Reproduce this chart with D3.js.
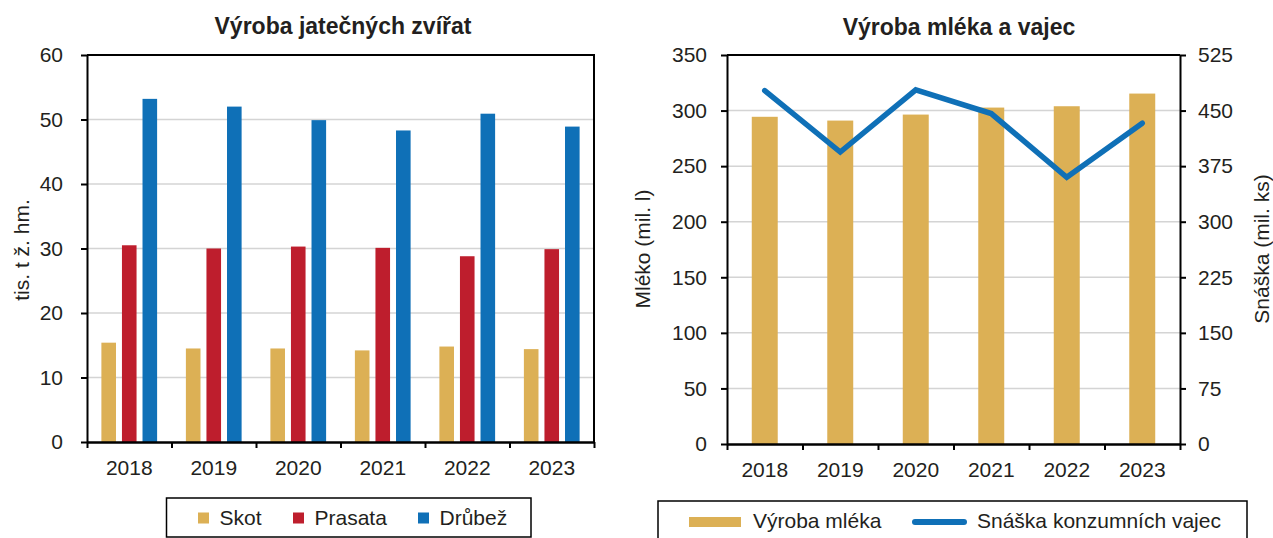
<!DOCTYPE html>
<html><head><meta charset="utf-8">
<script src="https://cdn.jsdelivr.net/npm/d3@7"></script>
<style>
body{margin:0;background:#fff}
text{font-family:"Liberation Sans",Arial,sans-serif;fill:#231f20}
</style>
</head><body>
<svg id="c" width="1273" height="538"></svg>
<script>
// ---- data ----
const years = ["2018","2019","2020","2021","2022","2023"];
const meatSeries = ["Skot","Prasata","Drůbež"];
const skot = [15.4,14.5,14.5,14.2,14.8,14.4];
const prasata = [30.5,30.0,30.3,30.1,28.8,29.9];
const drubez = [53.2,52.0,49.9,48.3,50.9,48.9];
const meatTicks = [0,10,20,30,40,50,60];
const milk = [294.4,291.0,296.4,302.7,303.9,315.3];
const eggs = [477,394,478,446,360,433];
const milkTicks = [0,50,100,150,200,250,300,350];
const eggTicks = [0,75,150,225,300,375,450,525];
const meatColors = ["#dcb055","#be1e2d","#0f70b7"];
const milkColor = "#dcb055", eggColor = "#0f70b7";

const svg = d3.select("#c");
const FS = 21;
const gridColor = "#d4d4d4";

function styleAxis(g){
  g.selectAll("path.domain").attr("stroke","#000").attr("stroke-width",2);
  g.selectAll(".tick line").attr("stroke","#000").attr("stroke-width",2);
  g.selectAll("text").attr("font-size",FS).attr("fill","#231f20")
   .attr("font-family","Liberation Sans, Arial, sans-serif");
}

// ================= LEFT CHART =================
{
  const L = {x0:87, x1:594, y0:55, y1:442};
  const x0 = d3.scaleBand().domain(years).range([L.x0,L.x1]).padding(0);
  const x1 = d3.scaleBand().domain(meatSeries).range([0,x0.bandwidth()]).paddingInner(0.29).paddingOuter(0.7);
  const y = d3.scaleLinear().domain([0,60]).range([L.y1,L.y0]);
  const data = years.map((yr,i)=>({year:yr, vals:[skot[i],prasata[i],drubez[i]]}));

  // grid
  svg.append("g").selectAll("line").data(meatTicks.filter(t=>t>0&&t<60)).join("line")
    .attr("x1",L.x0).attr("x2",L.x1).attr("y1",d=>y(d)).attr("y2",d=>y(d))
    .attr("stroke",gridColor).attr("stroke-width",1.5);

  // bars
  svg.append("g").selectAll("g").data(data).join("g")
    .attr("transform",d=>`translate(${x0(d.year)},0)`)
    .selectAll("rect").data(d=>d.vals.map((v,k)=>({k,v}))).join("rect")
    .attr("x",d=>x1(meatSeries[d.k])).attr("width",x1.bandwidth())
    .attr("y",d=>y(d.v)).attr("height",d=>y(0)-y(d.v))
    .attr("fill",d=>meatColors[d.k]);

  // y axis
  const ya = svg.append("g").attr("transform",`translate(${L.x0},0)`)
    .call(d3.axisLeft(y).tickValues(meatTicks).tickSize(6).tickSizeOuter(0).tickPadding(18));
  styleAxis(ya);
  // x axis labels
  const xa = svg.append("g").attr("transform",`translate(0,${L.y1})`)
    .call(d3.axisBottom(x0).tickSize(0).tickPadding(18));
  styleAxis(xa);
  // x axis edge ticks
  const xe = d3.scaleLinear().domain([0,years.length]).range([L.x0,L.x1]);
  const xt = svg.append("g").attr("transform",`translate(0,${L.y1})`)
    .call(d3.axisBottom(xe).tickValues(d3.range(0,years.length+1)).tickSize(6).tickSizeOuter(0).tickFormat(""));
  styleAxis(xt);
  // border top/right
  svg.append("path").attr("d",`M${L.x0},${L.y0}H${L.x1}V${L.y1}`).attr("fill","none").attr("stroke","#000").attr("stroke-width",2);

  // title
  svg.append("text").attr("x",343).attr("y",34).attr("text-anchor","middle")
    .attr("font-size",23).attr("font-weight","bold").text("Výroba jatečných zvířat");
  // y title
  svg.append("text").attr("transform","translate(22,250) rotate(-90)").attr("dy","0.35em")
    .attr("text-anchor","middle").attr("font-size",FS).text("tis. t ž. hm.");

  // legend
  svg.append("rect").attr("x",166.5).attr("y",498).attr("width",364.5).attr("height",39)
    .attr("fill","none").attr("stroke","#000").attr("stroke-width",1.5);
  const lx = [198,293,418];
  const lg = svg.append("g").selectAll("g").data(meatSeries).join("g")
    .attr("transform",(d,i)=>`translate(${lx[i]},0)`);
  lg.append("rect").attr("x",0).attr("y",512.5).attr("width",11).attr("height",11).attr("fill",(d,i)=>meatColors[i]);
  lg.append("text").attr("x",21.5).attr("y",525).attr("font-size",FS).text(d=>d);
}

// ================= RIGHT CHART =================
{
  const R = {x0:727, x1:1180, y0:55, y1:444};
  const x = d3.scaleBand().domain(years).range([R.x0,R.x1]).paddingInner(0.656).paddingOuter(0.328);
  const y = d3.scaleLinear().domain([0,350]).range([R.y1,R.y0]);
  const y2 = d3.scaleLinear().domain([0,525]).range([R.y1,R.y0]);

  svg.append("g").selectAll("line").data(milkTicks.filter(t=>t>0&&t<350)).join("line")
    .attr("x1",R.x0).attr("x2",R.x1).attr("y1",d=>y(d)).attr("y2",d=>y(d))
    .attr("stroke",gridColor).attr("stroke-width",1.5);

  svg.append("g").selectAll("rect").data(years).join("rect")
    .attr("x",d=>x(d)).attr("width",x.bandwidth())
    .attr("y",(d,i)=>y(milk[i])).attr("height",(d,i)=>y(0)-y(milk[i]))
    .attr("fill",milkColor);

  const line = d3.line().x((d,i)=>x(years[i])+x.bandwidth()/2).y(d=>y2(d));
  svg.append("path").datum(eggs).attr("d",line).attr("fill","none")
    .attr("stroke",eggColor).attr("stroke-width",5.5).attr("stroke-linejoin","miter").attr("stroke-linecap","round");

  const ya = svg.append("g").attr("transform",`translate(${R.x0},0)`)
    .call(d3.axisLeft(y).tickValues(milkTicks).tickSize(6).tickSizeOuter(0).tickPadding(14));
  styleAxis(ya);
  const yb = svg.append("g").attr("transform",`translate(${R.x1},0)`)
    .call(d3.axisRight(y2).tickValues(eggTicks).tickSize(6).tickSizeOuter(0).tickPadding(12));
  styleAxis(yb);
  const xl = d3.scaleBand().domain(years).range([R.x0,R.x1]).padding(0);
  const xa = svg.append("g").attr("transform",`translate(0,${R.y1})`)
    .call(d3.axisBottom(xl).tickSize(0).tickPadding(18));
  styleAxis(xa);
  const xe = d3.scaleLinear().domain([0,years.length]).range([R.x0,R.x1]);
  const xt = svg.append("g").attr("transform",`translate(0,${R.y1})`)
    .call(d3.axisBottom(xe).tickValues(d3.range(0,years.length+1)).tickSize(6).tickSizeOuter(0).tickFormat(""));
  styleAxis(xt);
  svg.append("line").attr("x1",R.x0).attr("x2",R.x1).attr("y1",R.y0).attr("y2",R.y0).attr("stroke","#000").attr("stroke-width",2);

  svg.append("text").attr("x",959).attr("y",35).attr("text-anchor","middle")
    .attr("font-size",23).attr("font-weight","bold").text("Výroba mléka a vajec");
  svg.append("text").attr("transform","translate(643,249) rotate(-90)").attr("dy","0.35em")
    .attr("text-anchor","middle").attr("font-size",FS).text("Mléko (mil. l)");
  svg.append("text").attr("transform","translate(1262,249) rotate(-90)").attr("dy","0.35em")
    .attr("text-anchor","middle").attr("font-size",FS).text("Snáška (mil. ks)");

  // legend
  svg.append("rect").attr("x",658).attr("y",501).attr("width",589).attr("height",60)
    .attr("fill","none").attr("stroke","#000").attr("stroke-width",1.5);
  svg.append("rect").attr("x",689).attr("y",517).attr("width",52).attr("height",10).attr("fill",milkColor);
  svg.append("text").attr("x",753).attr("y",528).attr("font-size",FS).text("Výroba mléka");
  svg.append("line").attr("x1",915).attr("x2",964).attr("y1",522).attr("y2",522)
    .attr("stroke",eggColor).attr("stroke-width",6).attr("stroke-linecap","round");
  svg.append("text").attr("x",977).attr("y",528).attr("font-size",FS).text("Snáška konzumních vajec");
}
</script>
</body></html>
